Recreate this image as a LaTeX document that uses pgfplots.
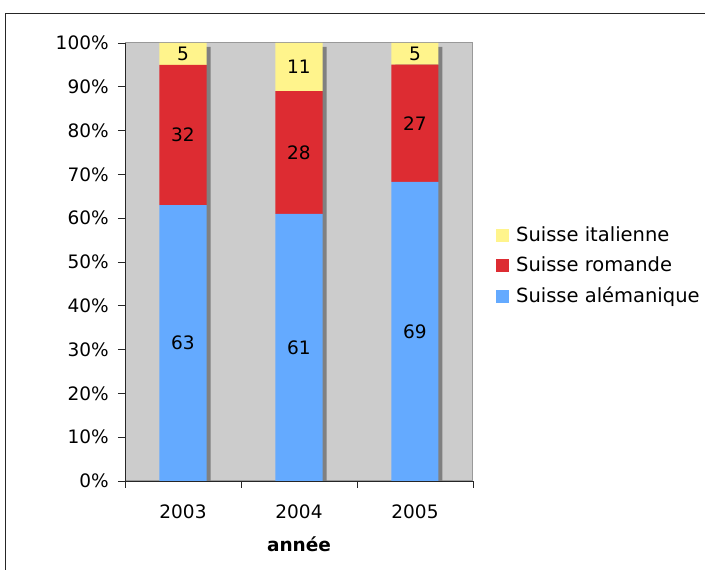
\documentclass[border=0pt]{standalone}
\usepackage{fontspec}
\setmainfont{DejaVu Sans}
\usepackage{pgfplots}
\usepackage{pgfplotstable}
\pgfplotsset{compat=1.18}

\definecolor{plotbg}{RGB}{204,204,204}
\definecolor{shadowgray}{RGB}{128,128,128}
\definecolor{ital}{RGB}{255,244,140}
\definecolor{roma}{RGB}{221,44,50}
\definecolor{alem}{RGB}{100,170,255}

\newcommand\chartfont{\fontsize{18.5}{22}\selectfont}
\newcommand\legendfont{\fontsize{19.5}{23}\selectfont}

% counts per year: alémanique, romande, italienne
\pgfplotstableread{
x year al ro it
1 2003 63 32 5
2 2004 61 28 11
3 2005 69 27 5
}\shares

\pgfplotsset{
  chartbase/.style={
    at={(125pt,89pt)}, anchor=south west,
    scale only axis, width=348pt, height=438pt,
    xmin=0.5, xmax=3.5, ymin=0, ymax=100,
    font=\chartfont,
    /pgf/number format/assume math mode=true,
  },
  sq/.style={legend image code/.code={\fill[##1] (0pt,-6.5pt) rectangle (13pt,6.5pt);}},
}

\begin{document}
\chartfont
\begin{tikzpicture}[x=1pt,y=1pt]
\useasboundingbox (0,0) rectangle (705,570);
% outer frame
\draw[black!85, line width=0.9pt] (5,-20) -- (5,557) -- (730,557);

% plot area background and bar shadows
\begin{axis}[chartbase, xtick=\empty, ytick=\empty,
  axis background/.style={fill=plotbg},
  axis line style={draw=shadowgray!80, line width=1pt},
  ybar, bar width=47pt, bar shift=4pt]
  \addplot[fill=shadowgray, draw=none] table[x=x, y expr=99.1]{\shares};
\end{axis}

% stacked shares
\begin{axis}[chartbase, ybar stacked, bar width=47pt,
  axis lines*=left,
  axis line style={black!85, line width=0.9pt},
  ytick={0,10,...,100},
  yticklabel={\pgfmathprintnumber{\tick}\%},
  xtick={1,2,3}, xticklabels={2003,2004,2005},
  minor xtick={0.5,1.5,2.5,3.5},
  tick align=outside,
  major tick length=7pt, minor tick length=7pt,
  tick style={black!85, line width=0.9pt},
  major x tick style={draw=none},
  xticklabel style={yshift=-10pt},
  yticklabel style={xshift=-3pt},
  xlabel={\textbf{année}},
  xlabel style={yshift=-6pt},
  reverse legend,
  legend style={draw=none, fill=none, at={(1.066,0.585)}, anchor=north west,
    font=\legendfont, row sep=8.5pt, column sep=5pt, inner sep=0pt},
  legend cell align=left,
  ]
  \addplot[fill=alem, draw=none, sq] table[x=x, y expr=\thisrow{al}*100/(\thisrow{al}+\thisrow{ro}+\thisrow{it})]{\shares};
  \addplot[fill=roma, draw=none, sq] table[x=x, y expr=\thisrow{ro}*100/(\thisrow{al}+\thisrow{ro}+\thisrow{it})]{\shares};
  \addplot[fill=ital, draw=none, sq] table[x=x, y expr=\thisrow{it}*100/(\thisrow{al}+\thisrow{ro}+\thisrow{it})]{\shares};
  \legend{Suisse alémanique, Suisse romande, Suisse italienne}
\end{axis}

% value labels at the middle of each segment
\begin{axis}[chartbase, hide axis, point meta=explicit,
  nodes near coords={\pgfmathprintnumber{\pgfplotspointmeta}},
  every node near coord/.style={anchor=center, font=\chartfont, text=black}]
  \addplot[draw=none, mark=none] table[x=x, meta=al,
    y expr=0.5*\thisrow{al}*100/(\thisrow{al}+\thisrow{ro}+\thisrow{it})]{\shares};
  \addplot[draw=none, mark=none] table[x=x, meta=ro,
    y expr=(\thisrow{al}+0.5*\thisrow{ro})*100/(\thisrow{al}+\thisrow{ro}+\thisrow{it})]{\shares};
  \addplot[draw=none, mark=none] table[x=x, meta=it,
    y expr=(\thisrow{al}+\thisrow{ro}+0.5*\thisrow{it})*100/(\thisrow{al}+\thisrow{ro}+\thisrow{it})]{\shares};
\end{axis}
\end{tikzpicture}
\end{document}
